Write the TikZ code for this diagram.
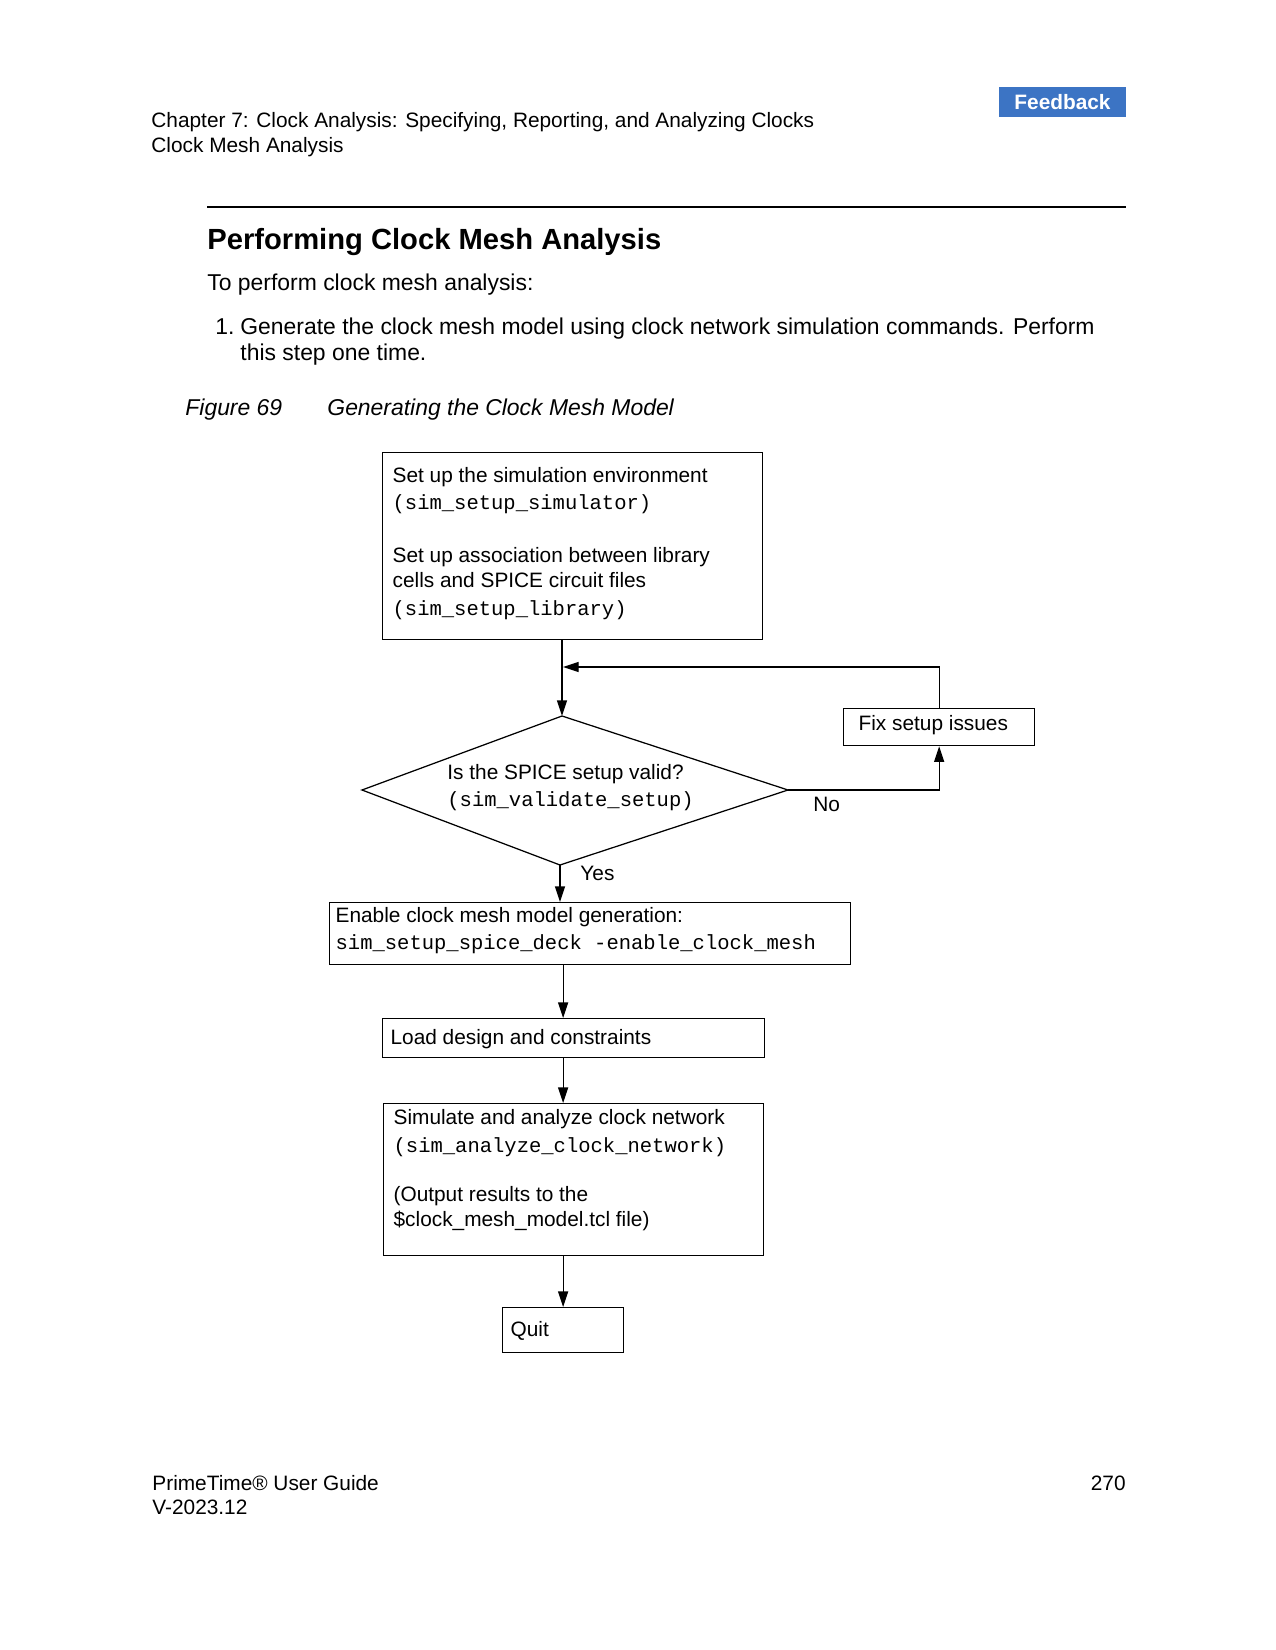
\documentclass[tikz,border=0pt]{standalone}
\usepackage{fontspec}
\setmainfont{Liberation Sans}
\setmonofont{Liberation Mono}
\usetikzlibrary{arrows.meta}

% one pixel of the page at 150 dpi
\newlength\px
\setlength\px{0.48pt}
\definecolor{fbblue}{HTML}{3C74C4}
\newcommand{\flowfont}{\fontsize{10}{12}\selectfont}
\newcommand{\codefont}{\ttfamily\fontsize{9.85}{12}\selectfont}
\newcommand{\bodyfont}{\fontsize{11}{13}\selectfont}
% width, height, first baseline, left pad, lines
\newcommand{\stepbody}[5]{\parbox[c][#2\px][t]{#1\px}{\raggedright\leftskip=#4\px\rule{0pt}{#3\px}#5}}

\tikzset{
  stepbox/.style={draw, line width=0.6pt, inner sep=0pt, anchor=north west, font=\flowfont},
  arr/.style={-{Triangle[length=7.5pt,width=4.8pt]}, line width=0.6pt},
  txt/.style={anchor=base west, inner sep=0pt},
}

\begin{document}
\begin{tikzpicture}[x=0.48pt, y=-0.48pt]
    \useasboundingbox (0,0) rectangle (1275,1650);

    % page header
    \node[txt, font=\flowfont] (chapter) at (151,128) {Chapter 7: Clock Analysis: Specifying, Reporting, and Analyzing Clocks};
    \node[txt, font=\flowfont] (section) at (151,153) {Clock Mesh Analysis};
    \node[fill=fbblue, text=white, font=\flowfont\bfseries, minimum width=61pt, minimum height=14.4pt, inner sep=0pt] (feedback) at (1062.5,102) {Feedback};
    \draw[line width=1.2pt] (207,207) -- (1126,207);

    % section text
    \node[txt, font=\fontsize{14}{17}\selectfont\bfseries] (title) at (207,250) {Performing Clock Mesh Analysis};
    \node[txt, font=\bodyfont] (intro) at (207,291) {To perform clock mesh analysis:};
    \node[txt, font=\bodyfont] (itemnum) at (215,335) {1.};
    \node[txt, font=\bodyfont] (itemtext) at (240,335) {Generate the clock mesh model using clock network simulation commands. Perform};
    \node[txt, font=\bodyfont] (itemtextb) at (240,361) {this step one time.};
    \node[txt, font=\bodyfont\itshape] (figlabel) at (185,416) {Figure 69};
    \node[txt, font=\bodyfont\itshape] (figtitle) at (327,416) {Generating the Clock Mesh Model};

    % flow chart
    \node[stepbox] (setup) at (382,452) {\stepbody{380}{187}{30}{10}{Set up the simulation environment\\[2\px]
        {\codefont (sim\_setup\_simulator)}\\[28\px]
        Set up association between library\\
        cells and SPICE circuit files\\[3\px]
        {\codefont (sim\_setup\_library)}}};

    \coordinate (dtop) at (562,716);
    \coordinate (dleft) at (362,790);
    \coordinate (dright) at (788,790);
    \coordinate (dbottom) at (560,865);
    \draw[line width=0.6pt] (dtop) -- (dright) -- (dbottom) -- (dleft) -- cycle;
    \node[txt, font=\flowfont] (valid) at (447,779) {\parbox[t]{300\px}{Is the SPICE setup valid?\\[1pt]
        {\codefont (sim\_validate\_setup)}}};

    \node[stepbox] (fix) at (843,708) {\stepbody{191}{37}{22}{15}{Fix setup issues}};
    \node[stepbox] (enable) at (329,902) {\stepbody{521}{62}{20}{6}{Enable clock mesh model generation:\\[2\px]
        {\codefont sim\_setup\_spice\_deck -enable\_clock\_mesh}}};
    \node[stepbox] (load) at (382,1018) {\stepbody{382}{39}{26}{8}{Load design and constraints}};
    \node[stepbox] (simulate) at (383,1103) {\stepbody{380}{152}{21}{10}{Simulate and analyze clock network\\[3\px]
        {\codefont (sim\_analyze\_clock\_network)}\\[24\px]
        (Output results to the\\
        \$clock\_mesh\_model.tcl file)}};
    \node[stepbox] (quit) at (502,1307) {\stepbody{121}{45}{29}{8}{Quit}};

    \node[txt, font=\flowfont] (no) at (813,811) {No};
    \node[txt, font=\flowfont] (yes) at (580,880) {Yes};

    \draw[arr] (setup.south -| dtop) -- (dtop);
    \draw[arr] (dright) -| (fix.south);
    \coordinate (back) at (563,667);
    \draw[arr] (fix.north) |- (back);
    \draw[arr] (dbottom) -- (dbottom |- enable.north);
    \draw[arr] (quit.north |- enable.south) -- (quit.north |- load.north);
    \draw[arr] (quit.north |- load.south) -- (quit.north |- simulate.north);
    \draw[arr] (simulate.south -| quit.north) -- (quit.north);

    % page footer
    \node[txt, font=\flowfont] (guide) at (152,1490) {PrimeTime® User Guide};
    \node[txt, font=\flowfont] (version) at (152,1514) {V-2023.12};
    \node[anchor=base east, inner sep=0pt, font=\flowfont] (pagenum) at (1126,1490) {270};
\end{tikzpicture}
\end{document}
